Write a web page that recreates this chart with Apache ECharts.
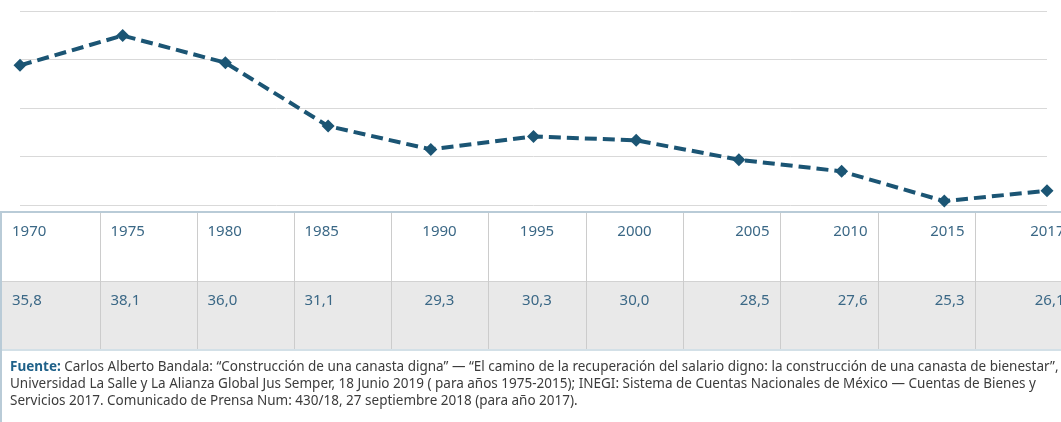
<!DOCTYPE html>
<html>
<head>
<meta charset="utf-8">
<script src="https://cdn.jsdelivr.net/npm/echarts@6/dist/echarts.min.js"></script>
<style>
    html, body {
        margin: 0;
        padding: 0;
        background: #ffffff;
    }
    .wrap {
        position: relative;
        width: 1061px;
        height: 422px;
        overflow: hidden;
        font-family: 'Noto Sans', sans-serif;
    }
    #chart {
        position: absolute;
        left: 0;
        top: 0;
        width: 1061px;
        height: 212px;
    }
    .box {
        position: absolute;
        left: 0;
        top: 211px;
        width: 1075px;
        height: 215px;
        border-left: 2px solid #b9cbd7;
        border-top: 2px solid #b9cbd7;
        box-sizing: border-box;
    }
    table {
        border-collapse: collapse;
        table-layout: fixed;
        width: 1073px;
    }
    td {
        vertical-align: top;
        color: #3b6886;
        font-size: 15px;
        padding: 7px 10px 0 10px;
        border-right: 1px solid #cccccc;
        white-space: nowrap;
        box-sizing: border-box;
    }
    tr.yr td {
        height: 68px;
        background: #ffffff;
    }
    tr.val td {
        height: 69px;
        background: #e9e9e9;
        border-top: 1px solid #d2d2d2;
        border-bottom: 2px solid #d3e0e7;
    }
    td.l { text-align: left; }
    td.c { text-align: center; }
    td.r { text-align: right; }
    .note {
        padding: 7px 0 0 8px;
        font-size: 13.5px;
        line-height: 17px;
        color: #3c3c3c;
        white-space: nowrap;
    }
    .note b {
        color: #1f6189;
    }
</style>
</head>
<body>
<div class="wrap">
    <div id="chart"></div>
    <div class="box">
        <table>
            <colgroup id="cols"></colgroup>
            <tr class="yr" id="rowYears"></tr>
            <tr class="val" id="rowValues"></tr>
        </table>
        <div class="note" id="note"></div>
    </div>
</div>
<script>
// años (categorías) y valores de la serie
const years = ['1970', '1975', '1980', '1985', '1990', '1995', '2000', '2005', '2010', '2015', '2017'];
const values = [35.8, 38.1, 36.0, 31.1, 29.3, 30.3, 30.0, 28.5, 27.6, 25.3, 26.1];

const noteLines = [
    '<b>Fuente:</b> Carlos Alberto Bandala: “Construcción de una canasta digna” — “El camino de la recuperación del salario digno: la construcción de una canasta de bienestar”,',
    'Universidad La Salle y La Alianza Global Jus Semper, 18 Junio 2019 ( para años 1975-2015); INEGI: Sistema de Cuentas Nacionales de México — Cuentas de Bienes y',
    'Servicios 2017. Comunicado de Prensa Num: 430/18, 27 septiembre 2018 (para año 2017).'
];

// tabla de abajo
const colWidths = [98, 97, 97, 97, 97, 98, 97, 97, 98, 97, 100];
const aligns = ['l', 'l', 'l', 'l', 'c', 'c', 'c', 'r', 'r', 'r', 'r'];
let cols = '', rowY = '', rowV = '';
years.forEach((y, i) => {
    cols += '<col style="width:' + colWidths[i] + 'px">';
    rowY += '<td class="' + aligns[i] + '">' + y + '</td>';
    rowV += '<td class="' + aligns[i] + '">' + values[i].toFixed(1).replace('.', ',') + '</td>';
});
document.getElementById('cols').innerHTML = cols;
document.getElementById('rowYears').innerHTML = rowY;
document.getElementById('rowValues').innerHTML = rowV;
document.getElementById('note').innerHTML = noteLines.join('<br>');

let myChart = echarts.init(document.getElementById('chart'));
let option = {
    animation: false,
    grid: {
        left: 20,
        right: 14,
        top: 11,
        bottom: 7
    },
    xAxis: {
        type: 'category',
        boundaryGap: false,
        data: years,
        axisLine: { show: false },
        axisTick: { show: false },
        axisLabel: { show: false }
    },
    yAxis: [
        {
            type: 'value',
            min: 25,
            max: 40,
            axisLine: { show: false },
            axisTick: { show: false },
            axisLabel: { show: false },
            splitLine: { show: false }
        },
        {
            // solo para las líneas horizontales (4 divisiones)
            type: 'value',
            min: 0,
            max: 4,
            interval: 1,
            position: 'left',
            axisLine: { show: false },
            axisTick: { show: false },
            axisLabel: { show: false },
            splitLine: {
                show: true,
                lineStyle: { color: '#d9d9d9', width: 1 }
            }
        }
    ],
    series: [
        {
            type: 'line',
            yAxisIndex: 0,
            data: values,
            symbol: 'diamond',
            symbolSize: 13,
            itemStyle: { color: '#1b5574' },
            lineStyle: {
                color: '#1b5574',
                width: 4,
                type: [12, 6]
            }
        }
    ]
};
myChart.setOption(option);
</script>
</body>
</html>
